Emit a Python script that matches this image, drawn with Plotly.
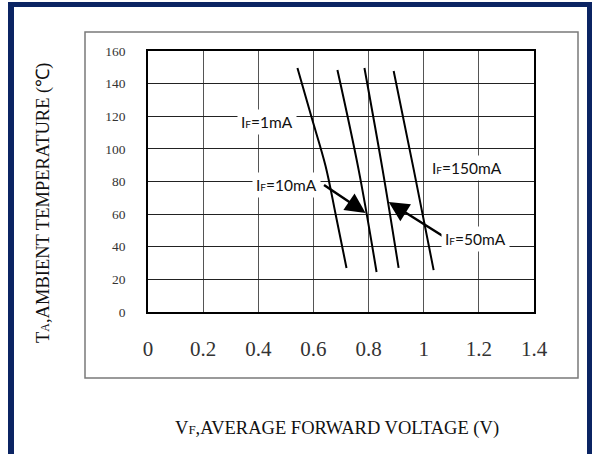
import plotly.graph_objects as go

# ---- data ----
vf_1mA = [0.542, 0.593, 0.644, 0.681, 0.720]
ta_1mA = [149.6, 119.5, 89.5, 59.5, 27.0]
vf_10mA = [0.687, 0.764, 0.829]
ta_10mA = [148.3, 87.1, 24.5]
vf_50mA = [0.785, 0.851, 0.909]
ta_50mA = [149.6, 87.1, 27.0]
vf_150mA = [0.891, 0.964, 1.036]
ta_150mA = [147.7, 87.1, 25.7]

x_ticks = [0, 0.2, 0.4, 0.6, 0.8, 1.0, 1.2, 1.4]
x_tick_labels = ["0", "0.2", "0.4", "0.6", "0.8", "1", "1.2", "1.4"]
y_ticks = [0, 20, 40, 60, 80, 100, 120, 140, 160]

W, H = 592, 454
L, R, T, B = 148, 534, 51, 312  # plot area in px


def px(xp):
    return (xp - L) / (R - L)


def py(yp):
    return (B - yp) / (B - T)


fig = go.Figure()
for xs, ys in [(vf_1mA, ta_1mA), (vf_10mA, ta_10mA), (vf_50mA, ta_50mA), (vf_150mA, ta_150mA)]:
    fig.add_trace(go.Scatter(x=xs, y=ys, mode="lines", line=dict(color="black", width=2),
                             line_shape="spline", showlegend=False, hoverinfo="skip"))

serif = "Liberation Serif, Times New Roman, serif"
sans = "Lato, Open Sans, sans-serif"
small = "<span style='font-size:10px'>F</span>"

annotations = []
# arrows
annotations.append(dict(x=0.789, y=60.7, ax=0.633, ay=78.5, xref="x", yref="y", axref="x", ayref="y",
                        text="", showarrow=True, arrowhead=2, arrowsize=1.6, arrowwidth=2.5, arrowcolor="black"))
annotations.append(dict(x=0.873, y=67.4, ax=1.076, ay=45.9, xref="x", yref="y", axref="x", ayref="y",
                        text="", showarrow=True, arrowhead=2, arrowsize=1.6, arrowwidth=2.5, arrowcolor="black"))
# labels
for txt, lx, ly in [("1mA", 0.431, 116.5), ("10mA", 0.502, 77.9), ("150mA", 1.156, 88.3), ("50mA", 1.189, 44.8)]:
    annotations.append(dict(x=lx, y=ly, xref="x", yref="y", text="I" + small + "=" + txt, showarrow=False,
                            xanchor="center", yanchor="middle",
                            font=dict(family=sans, size=15.5, color="#111"), bgcolor="white", borderpad=3))
# axis titles
annotations.append(dict(x=px(337), y=py(428), xref="paper", yref="paper", showarrow=False,
                        xanchor="center", yanchor="middle",
                        text="V<span style='font-size:13px'>F</span>,AVERAGE FORWARD VOLTAGE (V)",
                        font=dict(family=serif, size=18.5, color="#111")))
annotations.append(dict(x=px(43), y=py(203), xref="paper", yref="paper", showarrow=False, textangle=-90,
                        xanchor="center", yanchor="middle",
                        text="T<span style='font-size:12px'>A</span>,AMBIENT TEMPERATURE (℃)",
                        font=dict(family=serif, size=18.5, color="#111")))

navy = "#0b2463"
shapes = [
    # gray outer chart box
    dict(type="rect", xref="paper", yref="paper", x0=px(85), x1=px(578), y0=py(32), y1=py(378),
         line=dict(color="#7a7a7a", width=1.5), layer="below"),
    # navy frame: top, left, right bars
    dict(type="rect", xref="paper", yref="paper", x0=px(8), x1=px(592), y0=py(2), y1=py(7),
         fillcolor=navy, line=dict(width=0)),
    dict(type="rect", xref="paper", yref="paper", x0=px(8), x1=px(14), y0=py(2), y1=py(454),
         fillcolor=navy, line=dict(width=0)),
    dict(type="rect", xref="paper", yref="paper", x0=px(587), x1=px(592), y0=py(2), y1=py(454),
         fillcolor=navy, line=dict(width=0)),
]

fig.update_layout(
    width=W, height=H,
    margin=dict(l=L, r=W - R, t=T, b=H - B),
    paper_bgcolor="white", plot_bgcolor="white",
    annotations=annotations, shapes=shapes,
    xaxis=dict(range=[0, 1.4], tickvals=x_ticks, ticktext=x_tick_labels, showgrid=True,
               gridcolor="#555", gridwidth=1.3, showline=True, mirror=True, linecolor="black",
               linewidth=1.5, zeroline=False, ticks="", ticklabelstandoff=17,
               tickfont=dict(family=serif, size=21, color="#333")),
    yaxis=dict(range=[0, 160], tickvals=y_ticks, showgrid=True, gridcolor="#222", gridwidth=1.2,
               showline=True, mirror=True, linecolor="black", linewidth=1.5, zeroline=False,
               ticks="", ticklabelstandoff=18, tickfont=dict(family=serif, size=13.5, color="#333")),
)

fig.write_html("out.html", config={"displayModeBar": False},
               post_script="document.body.style.margin='0';")
